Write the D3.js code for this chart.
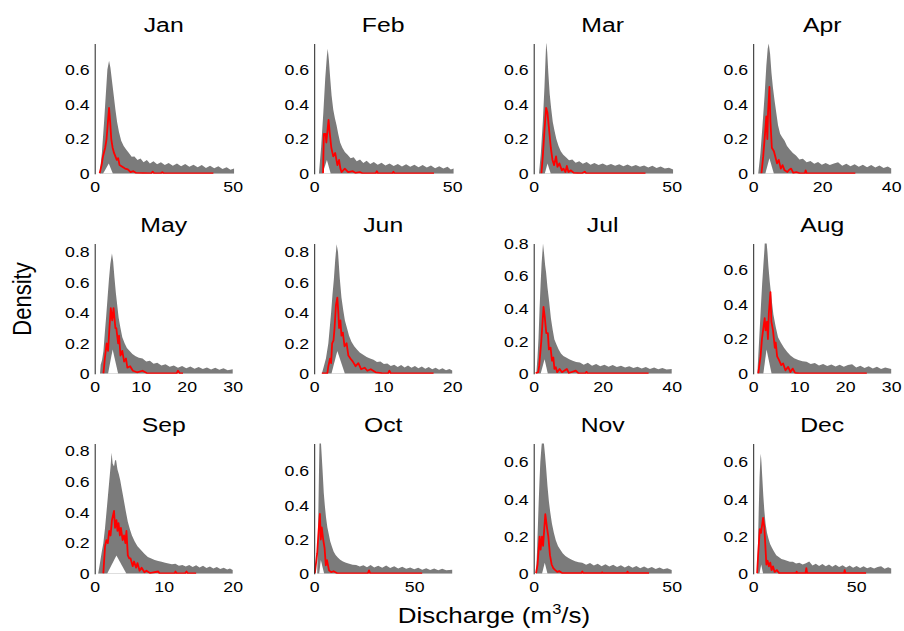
<!DOCTYPE html>
<html>
<head>
<meta charset="utf-8">
<script src="https://d3js.org/d3.v7.min.js"></script>
<style>
  body { margin: 0; background: #fff; }
  text { font-family: "Liberation Sans", Arial, sans-serif; fill: #000; }
</style>
</head>
<body>
<svg width="904" height="631"></svg>
<script>
// ---- data ----
const months = ["Jan","Feb","Mar","Apr","May","Jun","Jul","Aug","Sep","Oct","Nov","Dec"];
const xMax = [50, 50, 50, 40, 30, 20, 40, 30, 20, 69, 50, 67];
const yMax = [0.75, 0.75, 0.75, 0.75, 0.855, 0.855, 0.8, 0.75, 0.85, 0.76, 0.7, 0.7];
const xTicks = [[0,50],[0,50],[0,50],[0,20,40],[0,10,20,30],[0,10,20],[0,20,40],[0,10,20,30],[0,10,20],[0,50],[0,50],[0,50]];
const yTicks = [[0,0.2,0.4,0.6],[0,0.2,0.4,0.6],[0,0.2,0.4,0.6],[0,0.2,0.4,0.6],
                [0,0.2,0.4,0.6,0.8],[0,0.2,0.4,0.6,0.8],[0,0.2,0.4,0.6,0.8],[0,0.2,0.4,0.6],
                [0,0.2,0.4,0.6,0.8],[0,0.2,0.4,0.6],[0,0.2,0.4,0.6],[0,0.2,0.4,0.6]];

// upper envelope of the density band, [discharge, density]
const upperEnv = [
  [[1.8,0],[2.6,0.12],[3.4,0.3],[4.0,0.45],[4.6,0.6],[5.2,0.65],[5.7,0.61],[6.3,0.53],[6.9,0.45],[7.5,0.37],[8.1,0.3],[8.8,0.24],[9.6,0.19],[10.5,0.16],[11.4,0.14],[12.4,0.12],[13.4,0.098],[14.4,0.1],[15.5,0.08],[16.6,0.088],[17.7,0.066],[18.9,0.08],[20,0.06],[21.3,0.072],[22.6,0.055],[24,0.066],[25.4,0.05],[26.8,0.062],[28.3,0.046],[29.8,0.06],[31.3,0.044],[32.8,0.056],[34.3,0.04],[35.8,0.052],[37.3,0.038],[38.8,0.05],[40.3,0.034],[41.8,0.047],[43.3,0.032],[44.8,0.044],[46.3,0.028],[47.8,0.038],[49.2,0.024],[50.5,0.03],[50.5,0]],
  [[1.7,0],[2.5,0.15],[3.3,0.35],[4.0,0.55],[4.6,0.68],[4.9,0.72],[5.3,0.66],[5.8,0.55],[6.3,0.45],[6.9,0.37],[7.5,0.32],[8.1,0.28],[8.7,0.23],[9.4,0.18],[10.2,0.15],[11.1,0.125],[12.1,0.11],[13.2,0.09],[14.3,0.095],[15.4,0.072],[16.6,0.082],[17.8,0.062],[19,0.075],[20.3,0.056],[21.6,0.068],[23,0.052],[24.4,0.064],[25.8,0.048],[27.3,0.06],[28.8,0.045],[30.3,0.056],[31.8,0.042],[33.3,0.055],[34.8,0.04],[36.3,0.052],[37.8,0.038],[39.3,0.05],[40.8,0.036],[42.3,0.048],[43.8,0.032],[45.3,0.044],[46.8,0.03],[48.3,0.04],[49.5,0.025],[50.5,0.03],[50.5,0]],
  [[1.9,0],[2.6,0.12],[3.3,0.3],[3.9,0.5],[4.3,0.67],[4.55,0.76],[4.9,0.7],[5.3,0.58],[5.8,0.46],[6.3,0.38],[6.9,0.3],[7.5,0.25],[8.2,0.2],[9,0.16],[9.8,0.13],[10.7,0.11],[11.7,0.095],[12.8,0.078],[14,0.082],[15.2,0.064],[16.5,0.072],[17.8,0.058],[19.2,0.068],[20.6,0.052],[22,0.062],[23.5,0.05],[25,0.06],[26.5,0.048],[28,0.057],[29.5,0.046],[31,0.055],[32.5,0.044],[34,0.053],[35.5,0.042],[37,0.05],[38.5,0.04],[40,0.048],[41.5,0.036],[43,0.046],[44.5,0.034],[46,0.042],[47.5,0.03],[49,0.035],[50.5,0.025],[50.5,0]],
  [[1.45,0],[2.1,0.12],[2.7,0.28],[3.3,0.45],[3.8,0.62],[4.2,0.72],[4.5,0.75],[4.9,0.69],[5.3,0.58],[5.7,0.5],[6.2,0.42],[6.7,0.35],[7.2,0.28],[7.8,0.23],[8.4,0.21],[9.1,0.19],[9.8,0.16],[10.6,0.14],[11.5,0.12],[12.4,0.105],[13.4,0.082],[14.4,0.086],[15.5,0.066],[16.6,0.074],[17.7,0.058],[18.8,0.068],[19.9,0.052],[21,0.062],[22.2,0.05],[23.4,0.06],[24.6,0.066],[25.8,0.046],[27,0.058],[28.2,0.044],[29.4,0.055],[30.6,0.04],[31.8,0.052],[33,0.038],[34.2,0.05],[35.4,0.036],[36.6,0.048],[37.8,0.033],[39,0.042],[40,0.03],[40,0]],
  [[1.15,0],[1.3,0.06],[1.6,0.09],[1.9,0.15],[2.2,0.27],[2.5,0.38],[2.8,0.5],[3.1,0.62],[3.4,0.72],[3.75,0.79],[4.0,0.74],[4.3,0.63],[4.6,0.53],[4.9,0.45],[5.2,0.37],[5.6,0.3],[6.0,0.24],[6.5,0.2],[7.0,0.17],[7.6,0.15],[8.2,0.13],[8.9,0.115],[9.6,0.105],[10.4,0.1],[11.2,0.08],[12,0.085],[12.8,0.066],[13.6,0.072],[14.5,0.055],[15.4,0.062],[16.3,0.047],[17.2,0.055],[18.1,0.04],[19,0.052],[19.9,0.036],[20.8,0.048],[21.7,0.033],[22.6,0.045],[23.5,0.031],[24.4,0.042],[25.3,0.029],[26.2,0.04],[27.1,0.027],[28,0.037],[28.9,0.024],[30,0.03],[30,0]],
  [[1.1,0],[1.4,0.05],[1.7,0.1],[2.05,0.2],[2.25,0.3],[2.45,0.4],[2.65,0.52],[2.85,0.62],[3.05,0.75],[3.25,0.85],[3.45,0.8],[3.7,0.63],[3.95,0.5],[4.2,0.42],[4.45,0.35],[4.75,0.3],[5.05,0.25],[5.4,0.21],[5.8,0.18],[6.2,0.16],[6.6,0.14],[7.1,0.125],[7.6,0.11],[8.1,0.1],[8.6,0.092],[9.1,0.078],[9.6,0.08],[10.1,0.064],[10.6,0.068],[11.1,0.052],[11.6,0.06],[12.1,0.045],[12.6,0.057],[13.1,0.042],[13.6,0.055],[14.1,0.04],[14.6,0.051],[15.1,0.037],[15.6,0.048],[16.1,0.033],[16.6,0.044],[17.1,0.03],[17.6,0.04],[18.1,0.027],[18.6,0.037],[19.1,0.024],[19.6,0.032],[20,0.022],[20,0]],
  [[0.75,0],[1.1,0.1],[1.4,0.22],[1.7,0.4],[2.0,0.55],[2.3,0.68],[2.7,0.8],[3.0,0.74],[3.3,0.67],[3.6,0.62],[4.0,0.53],[4.5,0.44],[5.0,0.34],[5.5,0.27],[6.0,0.21],[6.6,0.18],[7.2,0.15],[7.9,0.125],[8.6,0.11],[9.4,0.1],[10.3,0.09],[11.3,0.08],[12.3,0.072],[13.4,0.07],[14.5,0.055],[15.7,0.068],[16.9,0.05],[18.1,0.06],[19.3,0.046],[20.5,0.056],[21.7,0.044],[22.9,0.054],[24.1,0.042],[25.3,0.05],[26.5,0.038],[27.7,0.047],[28.9,0.036],[30.1,0.044],[31.3,0.033],[32.5,0.042],[33.7,0.03],[34.9,0.038],[36.1,0.028],[37.3,0.036],[38.5,0.026],[40,0.03],[40,0]],
  [[0.9,0],[1.1,0.1],[1.3,0.2],[1.5,0.3],[1.7,0.4],[1.95,0.52],[2.2,0.62],[2.45,0.72],[2.55,0.78],[2.9,0.76],[3.1,0.7],[3.3,0.62],[3.6,0.53],[4.0,0.43],[4.4,0.34],[4.9,0.27],[5.4,0.21],[6.0,0.18],[6.7,0.15],[7.4,0.125],[8.1,0.105],[8.9,0.09],[9.8,0.08],[10.7,0.072],[11.6,0.07],[12.5,0.056],[13.4,0.062],[14.3,0.048],[15.2,0.056],[16.1,0.045],[17,0.054],[17.9,0.042],[18.8,0.052],[19.7,0.04],[20.6,0.05],[21.5,0.055],[22.4,0.036],[23.3,0.046],[24.2,0.034],[25.1,0.044],[26,0.03],[26.9,0.04],[27.8,0.028],[28.7,0.036],[30,0.027],[30,0]],
  [[0.5,0],[0.8,0.08],[1.05,0.15],[1.25,0.2],[1.5,0.3],[1.7,0.4],[1.9,0.5],[2.1,0.6],[2.3,0.7],[2.45,0.79],[2.6,0.72],[2.8,0.7],[2.95,0.74],[3.1,0.74],[3.3,0.68],[3.5,0.65],[3.7,0.61],[3.9,0.56],[4.1,0.51],[4.3,0.46],[4.5,0.41],[4.8,0.34],[5.1,0.29],[5.4,0.25],[5.8,0.21],[6.2,0.18],[6.7,0.155],[7.2,0.13],[7.7,0.11],[8.2,0.1],[8.7,0.09],[9.2,0.084],[9.7,0.078],[10.2,0.072],[10.7,0.068],[11.2,0.063],[11.7,0.065],[12.2,0.052],[12.7,0.058],[13.2,0.047],[13.7,0.058],[14.2,0.044],[14.7,0.055],[15.2,0.041],[15.7,0.053],[16.2,0.038],[16.7,0.048],[17.2,0.035],[17.7,0.045],[18.2,0.032],[18.7,0.04],[19.2,0.028],[19.6,0.034],[20,0.024],[20,0]],
  [[1.5,0],[2.0,0.3],[2.4,0.6],[2.7,0.8],[3.2,0.8],[3.7,0.7],[4.2,0.6],[4.8,0.47],[5.3,0.4],[5.9,0.33],[6.6,0.27],[7.3,0.23],[8.0,0.19],[8.8,0.16],[9.7,0.13],[10.7,0.11],[11.8,0.095],[13,0.082],[14.4,0.072],[15.9,0.064],[17.5,0.058],[19.2,0.053],[21,0.052],[22.8,0.042],[24.6,0.05],[26.4,0.038],[28.2,0.052],[30,0.037],[32,0.047],[34,0.036],[36,0.048],[38,0.034],[40,0.044],[42,0.031],[44,0.041],[46,0.029],[48,0.037],[50,0.027],[52,0.035],[54,0.024],[56,0.033],[58,0.022],[60,0.031],[62,0.021],[64,0.029],[66,0.02],[69,0.024],[69,0]],
  [[0.85,0],[1.2,0.12],[1.5,0.25],[1.8,0.38],[2.1,0.5],[2.4,0.6],[2.8,0.68],[3.25,0.75],[3.7,0.7],[4.1,0.64],[4.5,0.57],[5.0,0.47],[5.5,0.39],[6.0,0.33],[6.6,0.27],[7.3,0.22],[8.0,0.18],[8.8,0.15],[9.6,0.13],[10.5,0.11],[11.5,0.095],[12.6,0.085],[13.8,0.075],[15,0.068],[16.3,0.062],[17.6,0.06],[19,0.048],[20.4,0.058],[21.8,0.044],[23.2,0.054],[24.6,0.041],[26,0.051],[27.4,0.039],[28.8,0.048],[30.2,0.036],[31.6,0.046],[33,0.034],[34.4,0.044],[35.8,0.032],[37.2,0.042],[38.6,0.03],[40,0.039],[41.4,0.028],[42.8,0.037],[44.2,0.026],[45.6,0.034],[47,0.024],[48.4,0.03],[50,0.02],[50,0]],
  [[1.9,0],[2.3,0.15],[2.7,0.35],[3.1,0.52],[3.5,0.62],[3.7,0.645],[4.0,0.6],[4.4,0.52],[4.9,0.42],[5.4,0.34],[6.0,0.27],[6.7,0.22],[7.4,0.19],[8.2,0.16],[9.1,0.14],[10.1,0.12],[11.2,0.1],[12.4,0.09],[13.7,0.08],[15,0.075],[16.4,0.07],[17.8,0.065],[19.3,0.065],[20.8,0.055],[22.4,0.06],[24,0.05],[25.6,0.057],[27.2,0.066],[28.8,0.044],[30.4,0.054],[32,0.042],[33.6,0.052],[35.2,0.04],[36.8,0.05],[38.4,0.038],[40,0.048],[41.7,0.036],[43.4,0.046],[45.1,0.034],[46.8,0.044],[48.5,0.033],[50.2,0.042],[51.9,0.031],[53.6,0.04],[55.3,0.03],[57,0.036],[58.7,0.028],[60.4,0.037],[62.1,0.04],[63.8,0.027],[65.5,0.035],[67,0.028],[67,0]]
];

// lower envelope of the band (only non-zero near the mode)
const lowerEnv = [
  [[3.0,0],[5.1,0.06],[6.6,0]],
  [[3.0,0],[4.6,0.08],[6.0,0]],
  [[4.0,0],[5.0,0.06],[6.2,0]],
  [[3.5,0],[4.7,0.09],[6.0,0]],
  [[2.9,0],[3.9,0.16],[5.1,0]],
  [[2.5,0],[3.35,0.15],[4.45,0]],
  [[2.0,0],[3.15,0.09],[4.1,0]],
  [[2.2,0],[2.9,0.14],[4.0,0]],
  [[1.8,0],[3.15,0.12],[4.6,0]],
  [[2.5,0],[3.3,0.08],[5.0,0]],
  [[3.0,0],[4.0,0.06],[5.0,0]],
  [[3.0,0],[3.9,0.05],[4.8,0]]
];

// median density (red line)
const medianLine = [
  [[1.8,0.003],[2.5,0.05],[3,0.1],[3.8,0.15],[4.3,0.2],[4.8,0.3],[5.2,0.38],[5.6,0.3],[6,0.2],[6.5,0.15],[7,0.12],[7.5,0.1],[8,0.08],[8.5,0.09],[9,0.05],[10,0.04],[11,0.03],[12,0.025],[13,0.01],[14,0.015],[15,0.005],[20.5,0.003],[21,0.012],[21.5,0.003],[24,0.003],[24.5,0.01],[25,0.003],[43,0.003]],
  [[3.2,0.003],[3.5,0.23],[4.1,0.23],[4.4,0.18],[5.2,0.31],[5.6,0.24],[6.2,0.15],[6.9,0.1],[7.6,0.12],[8.4,0.05],[9,0.08],[9.5,0.03],[9.9,0.01],[10.5,0.02],[11.1,0.03],[12.3,0.01],[14,0.015],[15,0.005],[16.5,0.01],[17.5,0.003],[22.3,0.003],[22.7,0.015],[23.1,0.003],[28.3,0.003],[28.7,0.012],[29.1,0.003],[43.4,0.003]],
  [[2.8,0.003],[3.3,0.1],[3.9,0.25],[4.5,0.38],[5.0,0.35],[5.6,0.25],[6.2,0.15],[6.8,0.08],[7.4,0.05],[8.1,0.1],[8.6,0.04],[9.3,0.06],[10.2,0.02],[10.8,0.03],[11.5,0.01],[12.0,0.045],[12.6,0.01],[13.5,0.02],[14.5,0.005],[17.5,0.003],[18.5,0.012],[19,0.003],[40.5,0.003]],
  [[2.4,0.003],[2.9,0.1],[3.5,0.25],[3.8,0.33],[4.1,0.2],[4.3,0.35],[4.7,0.5],[5.0,0.3],[5.4,0.15],[6.0,0.13],[6.4,0.1],[6.9,0.06],[7.4,0.08],[8.0,0.03],[8.5,0.05],[9.1,0.02],[9.9,0.01],[10.5,0.025],[11.0,0.03],[11.6,0.005],[12.5,0.01],[13.5,0.003],[15.0,0.003],[15.2,0.02],[15.5,0.003],[29.6,0.003]],
  [[1.9,0.003],[2.2,0.1],[2.6,0.2],[2.9,0.15],[3.2,0.3],[3.5,0.43],[3.8,0.35],[4.1,0.43],[4.5,0.3],[4.7,0.3],[5.1,0.2],[5.3,0.25],[5.6,0.12],[6.0,0.15],[6.4,0.08],[6.8,0.1],[7.1,0.04],[7.7,0.05],[8.3,0.02],[9.2,0.01],[10.4,0.02],[11.3,0.005],[17.8,0.003],[18.1,0.02],[18.5,0.003],[19.2,0.003]],
  [[1.1,0.003],[1.9,0.003],[2.05,0.05],[2.3,0.1],[2.45,0.07],[2.6,0.2],[2.8,0.22],[2.95,0.3],[3.15,0.45],[3.35,0.5],[3.5,0.4],[3.6,0.3],[3.8,0.35],[3.95,0.25],[4.15,0.27],[4.4,0.18],[4.7,0.2],[4.95,0.12],[5.25,0.1],[5.6,0.08],[6.0,0.05],[6.4,0.07],[6.8,0.03],[7.3,0.04],[7.7,0.02],[8.2,0.03],[8.9,0.01],[9.8,0.005],[10.7,0.003],[10.9,0.02],[11.1,0.003],[17.3,0.003]],
  [[0.55,0.003],[1.3,0.01],[1.6,0.05],[2.2,0.2],[2.85,0.41],[3.2,0.35],[3.65,0.25],[4.1,0.25],[4.4,0.15],[4.9,0.16],[5.3,0.08],[5.7,0.1],[6.0,0.03],[6.4,0.04],[6.8,0.01],[7.5,0.03],[8.2,0.01],[9.6,0.03],[10.2,0.005],[12.2,0.02],[13.0,0.003],[15.0,0.003],[15.3,0.012],[15.6,0.003],[33.3,0.003]],
  [[1.1,0.003],[1.6,0.1],[1.9,0.2],[2.5,0.32],[2.7,0.25],[3.0,0.3],[3.2,0.2],[3.4,0.35],[3.75,0.47],[3.95,0.3],[4.3,0.25],[4.7,0.15],[4.9,0.18],[5.2,0.1],[5.6,0.08],[6.1,0.05],[6.5,0.06],[7.0,0.02],[7.6,0.04],[8.1,0.01],[8.6,0.03],[9.1,0.005],[10,0.003],[24.7,0.003]],
  [[1.25,0.003],[1.5,0.18],[1.7,0.22],[1.9,0.2],[2.1,0.28],[2.3,0.25],[2.5,0.35],[2.8,0.41],[2.95,0.3],[3.15,0.35],[3.3,0.28],[3.45,0.33],[3.65,0.25],[3.8,0.3],[4.05,0.22],[4.25,0.25],[4.45,0.2],[4.6,0.28],[4.8,0.12],[5.0,0.1],[5.2,0.1],[5.5,0.05],[5.7,0.08],[6.0,0.04],[6.2,0.07],[6.5,0.02],[6.8,0.04],[7.2,0.01],[7.5,0.02],[8.0,0.005],[9.2,0.015],[9.4,0.003],[11.6,0.003],[11.7,0.015],[11.9,0.003],[13.1,0.003],[13.3,0.015],[13.5,0.003],[14.7,0.003]],
  [[0.3,0.003],[0.8,0.05],[1.5,0.12],[2.2,0.25],[2.85,0.35],[3.3,0.2],[3.8,0.27],[4.5,0.2],[5.2,0.15],[5.8,0.05],[6.4,0.08],[7.4,0.02],[8.5,0.01],[9.7,0.015],[11.5,0.003],[26.8,0.003],[27.4,0.02],[28,0.003],[54,0.003]],
  [[0.85,0.003],[1.4,0.05],[2.15,0.2],[2.5,0.13],[3.0,0.2],[3.4,0.15],[4.2,0.32],[4.8,0.25],[5.3,0.2],[5.9,0.1],[6.5,0.05],[7.1,0.03],[7.8,0.02],[8.6,0.01],[9.2,0.015],[10.4,0.003],[17.2,0.003],[17.6,0.012],[18,0.003],[24.5,0.003],[24.8,0.008],[25.1,0.003],[33.7,0.003],[34,0.012],[34.3,0.003],[41.8,0.003]],
  [[1.9,0.003],[2.4,0.1],[3.2,0.24],[3.8,0.22],[4.8,0.3],[5.4,0.25],[5.9,0.15],[6.4,0.05],[7.0,0.07],[7.6,0.04],[8.3,0.06],[8.9,0.02],[9.6,0.04],[10.4,0.01],[11.5,0.02],[12.6,0.003],[20.8,0.003],[21.1,0.012],[21.4,0.003],[25.4,0.003],[25.8,0.03],[26.2,0.003],[44.1,0.003],[44.4,0.02],[44.8,0.003],[54.8,0.003]]
];

// ---- layout ----
const left0 = 94.7, colStep = 219.5, top0 = 43.5, rowStep = 200;
const pw = 138, ph = 130.3;
const sx = 1.18;   // the figure is stretched horizontally

const svg = d3.select("svg");

months.forEach(function(m, i) {
  const col = i % 4, row = Math.floor(i / 4);
  const g = svg.append("g")
    .attr("transform", "translate(" + (left0 + col * colStep) + "," + (top0 + row * rowStep) + ")");

  const x = d3.scaleLinear().domain([0, xMax[i]]).range([0, pw]);
  const y = d3.scaleLinear().domain([0, yMax[i]]).range([ph, 0]);

  g.append("clipPath").attr("id", "clip" + i)
    .append("rect").attr("x", 0).attr("y", 0).attr("width", pw + 2).attr("height", ph);

  const area = d3.area()
    .x(d => x(d[0]))
    .y0(ph)
    .y1(d => y(d[1]));

  const plot = g.append("g").attr("clip-path", "url(#clip" + i + ")");
  plot.append("path").datum(upperEnv[i])
    .attr("d", area)
    .attr("fill", "#7b7b7b");
  plot.append("path").datum(lowerEnv[i])
    .attr("d", area)
    .attr("fill", "#fff");
  plot.append("path").datum(medianLine[i])
    .attr("d", d3.line().x(d => x(d[0])).y(d => y(d[1])))
    .attr("fill", "none")
    .attr("stroke", "#ff0000")
    .attr("stroke-width", 1.8)
    .attr("stroke-linejoin", "round");

  // y axis
  const gy = g.append("g")
    .call(d3.axisLeft(y).tickValues(yTicks[i]).tickSize(0).tickPadding(4.3).tickFormat(d3.format("~g")));
  gy.select(".domain").attr("stroke", "#222").attr("stroke-width", 1);
  gy.selectAll("text")
    .style("font-size", "15px")
    .attr("transform", "scale(" + sx + ",1)");

  // x axis (labels only)
  const gx = g.append("g")
    .attr("transform", "translate(0," + ph + ")")
    .call(d3.axisBottom(x).tickValues(xTicks[i]).tickSize(0).tickPadding(8).tickFormat(d3.format("~g")));
  gx.select(".domain").remove();
  gx.selectAll("text")
    .style("font-size", "15px")
    .attr("transform", "scale(" + sx + ",1)");

  // panel title
  g.append("text")
    .attr("transform", "translate(" + (pw / 2) + ",-12) scale(" + sx + ",1)")
    .attr("text-anchor", "middle")
    .style("font-size", "21px")
    .text(m);
});

// shared axis labels
svg.append("text")
  .attr("transform", "translate(31,299) scale(" + sx + ",1) rotate(-90)")
  .attr("text-anchor", "middle")
  .style("font-size", "22px")
  .text("Density");

const xl = svg.append("text")
  .attr("transform", "translate(494,623) scale(" + sx + ",1)")
  .attr("text-anchor", "middle")
  .style("font-size", "22px");
xl.append("tspan").text("Discharge (m");
xl.append("tspan").attr("dy", -9).style("font-size", "14px").text("3");
xl.append("tspan").attr("dy", 9).text("/s)");
</script>
</body>
</html>
